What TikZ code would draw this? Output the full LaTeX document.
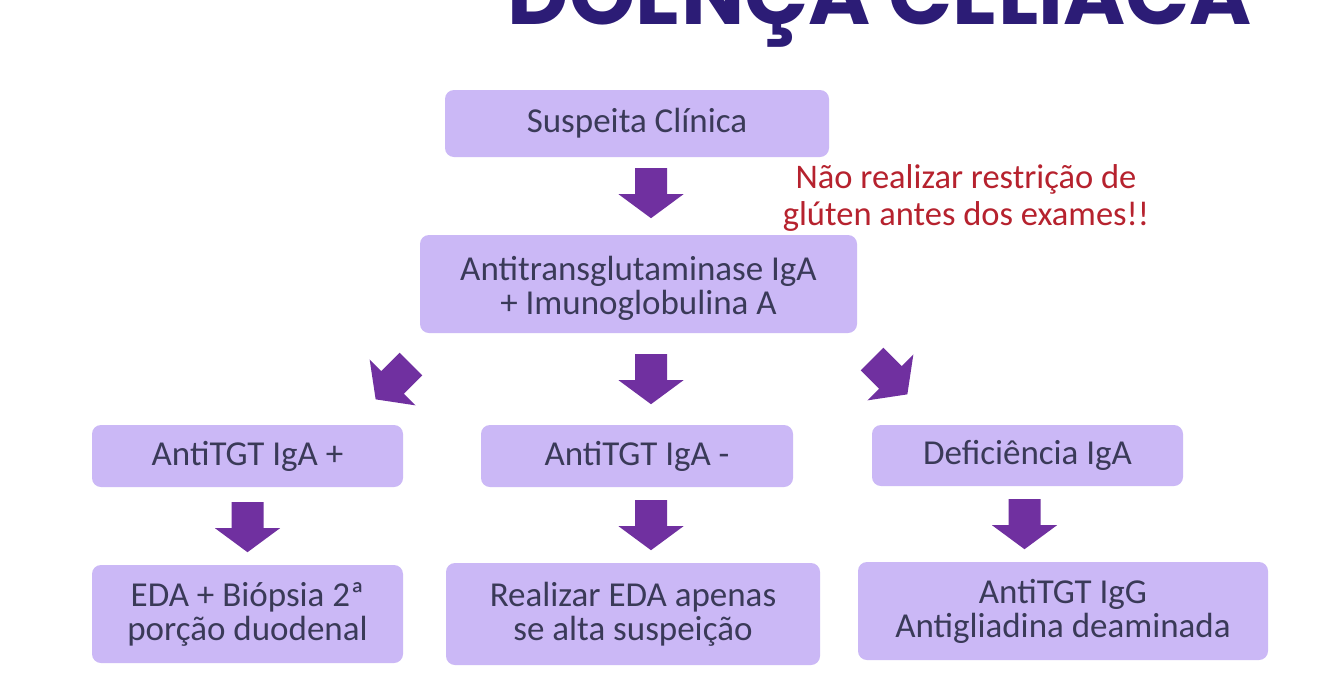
\documentclass[tikz,border=0pt]{standalone}
\usepackage{fontspec}
\setmainfont{Carlito}
\newfontfamily\titlefont{Poppins}
\definecolor{boxc}{RGB}{203,184,246}
\definecolor{txtc}{RGB}{58,58,88}
\definecolor{arrc}{RGB}{112,48,160}
\definecolor{redc}{RGB}{182,34,46}
\definecolor{titlec}{RGB}{44,28,118}
\begin{document}
\begin{tikzpicture}[x=1pt,y=-1pt,
  boxtext/.style={text=txtc, font=\fontsize{35}{34}\selectfont, align=center, inner sep=0pt},
  box/.style={fill=boxc, rounded corners=9pt, boxtext},
  barrow/.pic={\fill[arrc] (0,-16) -- (26,-16) -- (26,-32.5) -- (50,0)
      -- (26,32.5) -- (26,16) -- (0,16) -- cycle;}]
\useasboundingbox (0,0) rectangle (1334,678);
\clip (0,0) rectangle (1334,678);
\fill[white] (0,0) rectangle (1334,678);

% title (cut off at the top)
\node[anchor=base, text=titlec, inner sep=0pt] (title) at (880,24)
  {\resizebox{744pt}{!}{\titlefont\bfseries DOENÇA CELÍACA}};

% boxes
\node[box, minimum width=384pt, minimum height=67pt] (s) at (637,123.5) {Suspeita Clínica};
\node[box, minimum width=437pt, minimum height=98pt,
  label={[boxtext, yshift=-4pt]center:Antitransglutaminase IgA\\+ Imunoglobulina A}] (a) at (638.5,284) {};
\node[box, minimum width=311pt, minimum height=62pt] (p) at (247.5,456) {AntiTGT IgA +};
\node[box, minimum width=312pt, minimum height=62pt] (m) at (637,456) {AntiTGT IgA -};
\node[box, minimum width=311pt, minimum height=61pt] (d) at (1027.5,455.5) {Deficiência IgA};
\node[box, minimum width=311pt, minimum height=98pt] (e) at (247.5,614) {EDA + Biópsia 2ª\\porção duodenal};
\node[box, minimum width=374pt, minimum height=102pt] (r) at (633,614) {Realizar EDA apenas\\se alta suspeição};
\node[box, minimum width=410pt, minimum height=98pt] (g) at (1063,611) {AntiTGT IgG\\Antigliadina deaminada};

% note
\node[text=redc, font=\fontsize{34.5}{37}\selectfont, anchor=base, inner sep=0pt] (note) at (966,188)
  {\vtop{\halign{\hfil#\hfil\cr Não realizar restrição de\cr glúten antes dos exames!!\cr}}};

% block arrows
\pic[rotate=-90] at ([xshift=14pt,yshift=-11pt]s.south) {barrow};
\pic[rotate=-90] at ([xshift=12.5pt,yshift=-21pt]a.south) {barrow};
\coordinate (l0) at (411,364);
\coordinate (r0) at (872,359);
\pic[rotate=-135] at (l0) {barrow};
\pic[rotate=-45] at (r0) {barrow};
\pic[rotate=-90] at ([yshift=-15pt]p.south) {barrow};
\pic[rotate=-90] at ([xshift=14pt,yshift=-13pt]m.south) {barrow};
\pic[rotate=-90] at ([xshift=-3pt,yshift=-13pt]d.south) {barrow};
\end{tikzpicture}
\end{document}
